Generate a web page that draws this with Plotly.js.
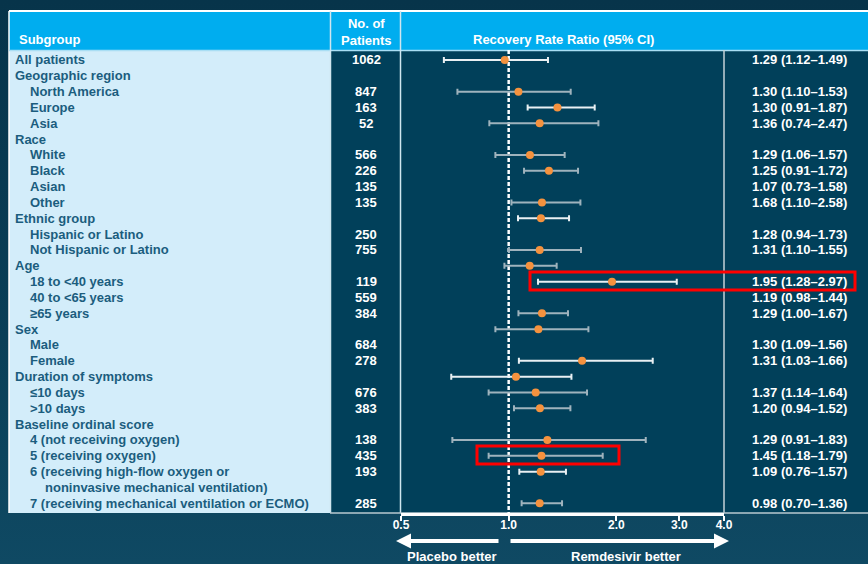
<!DOCTYPE html>
<html>
<head>
<meta charset="utf-8">
<script src="https://cdn.plot.ly/plotly-3.0.1.min.js"></script>
<style>
html,body{margin:0;padding:0;}
body{width:868px;height:564px;background:linear-gradient(to bottom,#07344a 0%,#0b3f57 60%,#0f4963 100%);overflow:hidden;}
#chart{width:868px;height:564px;}
</style>
</head>
<body>
<div id="chart"></div>
<script>
// ---------- DATA ----------
const subgroupLabels = [
  "All patients","Geographic region","North America","Europe","Asia","Race","White","Black","Asian","Other",
  "Ethnic group","Hispanic or Latino","Not Hispanic or Latino","Age","18 to <40 years","40 to <65 years","≥65 years",
  "Sex","Male","Female","Duration of symptoms","≤10 days",">10 days","Baseline ordinal score",
  "4 (not receiving oxygen)","5 (receiving oxygen)","6 (receiving high-flow oxygen or",
  "noninvasive mechanical ventilation)","7 (receiving mechanical ventilation or ECMO)"
];
// indent level: 0 = heading, 1 = subgroup, 2 = continuation line
const indentLevel = [0,0,1,1,1,0,1,1,1,1,0,1,1,0,1,1,1,0,1,1,0,1,1,0,1,1,1,2,1];
const patientCounts = ["1062","","847","163","52","","566","226","135","135","","250","755","","119","559","384","","684","278","","676","383","","138","435","193","","285"];
const ratioText = [
  "1.29 (1.12–1.49)","","1.30 (1.10–1.53)","1.30 (0.91–1.87)","1.36 (0.74–2.47)","","1.29 (1.06–1.57)","1.25 (0.91–1.72)",
  "1.07 (0.73–1.58)","1.68 (1.10–2.58)","","1.28 (0.94–1.73)","1.31 (1.10–1.55)","","1.95 (1.28–2.97)","1.19 (0.98–1.44)",
  "1.29 (1.00–1.67)","","1.30 (1.09–1.56)","1.31 (1.03–1.66)","","1.37 (1.14–1.64)","1.20 (0.94–1.52)","",
  "1.29 (0.91–1.83)","1.45 (1.18–1.79)","1.09 (0.76–1.57)","","0.98 (0.70–1.36)"
];
// plotted marks as drawn in the figure (row index, estimate, CI low, CI high, CI style)
const markRows  = [0,    2,    3,    4,    6,    7,    9,    10,   12,   13,   14,   16,   17,   19,   20,   21,   22,   24,   25,   26,   28];
const markEst   = [0.975,1.065,1.369,1.221,1.147,1.296,1.239,1.231,1.221,1.145,1.945,1.239,1.211,1.604,1.048,1.190,1.223,1.283,1.235,1.229,1.221];
const markLow   = [0.659,0.719,1.130,0.883,0.918,1.104,1.018,1.062,1.002,0.973,1.208,1.065,0.918,1.068,0.691,0.879,1.035,0.696,0.879,1.071,1.087];
const markHigh  = [1.288,1.491,1.740,1.782,1.434,1.563,1.587,1.475,1.593,1.362,2.951,1.465,1.671,2.528,1.498,1.656,1.488,2.417,1.832,1.446,1.410];
const markStyle = ["w","g","w","g","g","g","g","w","g","g","w","g","g","w","w","g","g","g","g","w","g"];
const tickValues = [0.5,1,2,3,4];
const tickLabels = ["0.5","1.0","2.0","3.0","4.0"];

// ---------- LAYOUT HELPERS ----------
const W = 868, H = 564;
const px = x => x / W;
const py = y => 1 - y / H;
const FONT = "Arial, 'Liberation Sans', sans-serif";
const nRows = subgroupLabels.length;
const rowTop = 50, rowBottom = 513, firstRowY = 60, lastRowY = 503.3;
const rowStep = (lastRowY - firstRowY) / (nRows - 1);
const yMin = -(firstRowY - rowTop) / rowStep;
const yMax = (nRows - 1) + (rowBottom - lastRowY) / rowStep;

const COL_WHITE = "#e9f0f3", COL_GREY = "#9fb3bd";

function ciTrace(style, color) {
  const idx = markRows.map((r, i) => i).filter(i => markStyle[i] === style);
  return {
    type: "scatter", mode: "markers",
    x: idx.map(i => markEst[i]),
    y: idx.map(i => markRows[i]),
    marker: {size: 1, color: "rgba(0,0,0,0)"},
    error_x: {
      type: "data", symmetric: false,
      array: idx.map(i => markHigh[i] - markEst[i]),
      arrayminus: idx.map(i => markEst[i] - markLow[i]),
      color: color, thickness: 2, width: 3
    },
    hoverinfo: "skip", showlegend: false
  };
}

const traces = [
  {type: "scatter", mode: "lines", x: [1, 1], y: [yMin, yMax],
   line: {color: "#ffffff", width: 2.5, dash: "4px,2px"}, hoverinfo: "skip", showlegend: false},
  ciTrace("g", COL_GREY),
  ciTrace("w", COL_WHITE),
  {type: "scatter", mode: "markers", x: markEst, y: markRows,
   marker: {size: 8, color: "#f5923e"}, hoverinfo: "skip", showlegend: false}
];

const shapes = [
  {type: "rect", xref: "paper", yref: "paper", x0: px(9), x1: px(868), y0: py(50), y1: py(11),
   fillcolor: "#00adef", line: {width: 0}, layer: "below"},
  {type: "rect", xref: "paper", yref: "paper", x0: px(9), x1: px(330), y0: py(513), y1: py(50),
   fillcolor: "#d3edfa", line: {width: 0}, layer: "below"},
  {type: "rect", xref: "paper", yref: "paper", x0: px(330), x1: px(868), y0: py(513), y1: py(50),
   fillcolor: "#01405a", line: {width: 0}, layer: "below"},
  {type: "line", xref: "paper", yref: "paper", x0: px(9), x1: px(868), y0: py(11), y1: py(11),
   line: {color: "#ffffff", width: 2}, layer: "below"},
  {type: "line", xref: "paper", yref: "paper", x0: px(9), x1: px(9), y0: py(513), y1: py(11),
   line: {color: "#ffffff", width: 1.5}, layer: "below"},
  {type: "line", xref: "paper", yref: "paper", x0: px(9), x1: px(868), y0: py(50.5), y1: py(50.5),
   line: {color: "#a9def4", width: 1.5}, layer: "below"},
  {type: "line", xref: "paper", yref: "paper", x0: px(330.5), x1: px(330.5), y0: py(513), y1: py(11),
   line: {color: "#cfe6f0", width: 1.5}, layer: "below"},
  {type: "line", xref: "paper", yref: "paper", x0: px(400.5), x1: px(400.5), y0: py(513), y1: py(11),
   line: {color: "#cfe6f0", width: 1.5}, layer: "below"},
  {type: "line", xref: "paper", yref: "paper", x0: px(724), x1: px(724), y0: py(513), y1: py(50),
   line: {color: "#c4d2d9", width: 1.5}, layer: "below"},
  {type: "line", xref: "paper", yref: "paper", x0: px(330), x1: px(868), y0: py(513), y1: py(513),
   line: {color: "#b8c8d0", width: 1.5}, layer: "below"},
  {type: "rect", xref: "paper", yref: "paper", x0: px(530), x1: px(855), y0: py(290), y1: py(272),
   fillcolor: "rgba(0,0,0,0)", line: {color: "#ff0000", width: 3}},
  {type: "rect", xref: "paper", yref: "paper", x0: px(477), x1: px(619), y0: py(464), y1: py(446),
   fillcolor: "rgba(0,0,0,0)", line: {color: "#ff0000", width: 3}}
];

const annotations = [];
const indentX = [13, 28, 43];
subgroupLabels.forEach((lab, i) => {
  annotations.push({xref: "paper", yref: "y", x: px(indentX[indentLevel[i]]), y: i, xanchor: "left", yanchor: "middle",
    text: "<b>" + lab + "</b>", showarrow: false, font: {family: FONT, size: 13, color: "#1b5d7e"}});
  if (patientCounts[i]) annotations.push({xref: "paper", yref: "y", x: px(366), y: i, xanchor: "center", yanchor: "middle",
    text: "<b>" + patientCounts[i] + "</b>", showarrow: false, font: {family: FONT, size: 13, color: "#ffffff"}});
  if (ratioText[i]) annotations.push({xref: "paper", yref: "y", x: px(849), y: i, xanchor: "right", yanchor: "middle",
    text: "<b>" + ratioText[i] + "</b>", showarrow: false, font: {family: FONT, size: 13, color: "#ffffff"}});
});
annotations.push({xref: "paper", yref: "paper", x: px(17), y: py(40), xanchor: "left", yanchor: "middle",
  text: "<b>Subgroup</b>", showarrow: false, font: {family: FONT, size: 13, color: "#ffffff"}});
annotations.push({xref: "paper", yref: "paper", x: px(366), y: py(32), xanchor: "center", yanchor: "middle",
  text: "<b>No. of</b><br><b>Patients</b>", showarrow: false, font: {family: FONT, size: 13, color: "#ffffff"}});
annotations.push({xref: "paper", yref: "paper", x: px(563), y: py(40), xanchor: "center", yanchor: "middle",
  text: "<b>Recovery Rate Ratio (95% CI)</b>", showarrow: false, font: {family: FONT, size: 13, color: "#ffffff"}});
annotations.push({xref: "paper", yref: "paper", x: px(396), y: py(541), ax: 104, ay: 0, text: "",
  showarrow: true, arrowhead: 2, arrowsize: 0.75, arrowwidth: 4, arrowcolor: "#ffffff", standoff: 0});
annotations.push({xref: "paper", yref: "paper", x: px(729), y: py(541), ax: -220, ay: 0, text: "",
  showarrow: true, arrowhead: 2, arrowsize: 0.75, arrowwidth: 4, arrowcolor: "#ffffff", standoff: 0});
annotations.push({xref: "paper", yref: "paper", x: px(452), y: py(556), xanchor: "center", yanchor: "middle",
  text: "<b>Placebo better</b>", showarrow: false, font: {family: FONT, size: 13, color: "#ffffff"}});
annotations.push({xref: "paper", yref: "paper", x: px(626), y: py(556), xanchor: "center", yanchor: "middle",
  text: "<b>Remdesivir better</b>", showarrow: false, font: {family: FONT, size: 13, color: "#ffffff"}});

const layout = {
  width: W, height: H,
  margin: {l: 0, r: 0, t: 0, b: 0, pad: 0},
  paper_bgcolor: "rgba(0,0,0,0)", plot_bgcolor: "rgba(0,0,0,0)",
  showlegend: false,
  xaxis: {
    type: "log", domain: [px(401), px(724)],
    range: [Math.log10(tickValues[0]), Math.log10(tickValues[tickValues.length - 1])],
    tickmode: "array", tickvals: tickValues, ticktext: tickLabels.map(t => "<b>" + t + "</b>"),
    tickfont: {family: FONT, size: 12, color: "#ffffff"},
    showline: true, linecolor: "#ffffff", linewidth: 3,
    ticks: "outside", ticklen: 5, tickwidth: 2, tickcolor: "#ffffff",
    ticklabelstandoff: -6,
    showgrid: false, zeroline: false, fixedrange: true
  },
  yaxis: {
    domain: [py(rowBottom), py(rowTop)], range: [yMax, yMin],
    visible: false, showgrid: false, zeroline: false, fixedrange: true
  },
  shapes: shapes,
  annotations: annotations,
  font: {family: FONT}
};

Plotly.newPlot("chart", traces, layout, {staticPlot: true, displayModeBar: false});
</script>
</body>
</html>
